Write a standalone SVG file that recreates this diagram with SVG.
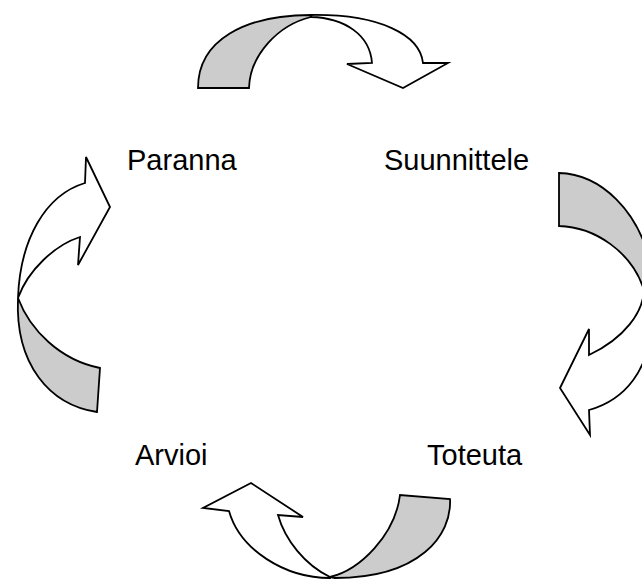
<svg xmlns="http://www.w3.org/2000/svg" width="642" height="581" viewBox="0 0 642 581">
<style>
.lbl{font-family:"Liberation Sans",Arial,sans-serif;font-size:29px;fill:#000}
.g{fill:#cccccc;stroke:#000;stroke-width:1.8;stroke-linejoin:miter}
.w{fill:#ffffff;stroke:#000;stroke-width:1.8;stroke-linejoin:miter}
</style>
<rect width="642" height="581" fill="#ffffff"/>
<g id="connectors">
  <g id="arrow-top">
    <path class="g" d="M198,88 C198,40 245,15 311,15 L311,17 C278,25 250,55 249,88 Z"/>
    <path class="w" d="M311,15 C380,14 420,35 423,63 L448,63 L403,88 L347,64 L372,63 C370,35 345,18 311,17 Z"/>
  </g>
  <g id="arrow-right">
    <path class="g" d="M559,173 C600,174 640,210 652,270 L652,300 L644,290 C632,252 595,227 559,226 Z"/>
    <path class="w" d="M644,290 C643,312 625,338 589,355 L589,329 L560,388 L590,435 L589,410 C625,400 650,370 652,320 L652,295 Z"/>
  </g>
  <g id="arrow-bottom">
    <path class="g" d="M330,577 C360,570 395,535 400,495 L450,499 C452,535 420,578 335,578 Z"/>
    <path class="w" d="M330,577 C305,565 285,540 278,515 L303,517 L251,483 L203,508 L229,511 C240,550 285,578 330,578 Z"/>
  </g>
  <g id="arrow-left">
    <path class="g" d="M18,298 C30,330 60,360 100,368 L97,412 C50,405 15,365 18,298 Z"/>
    <path class="w" d="M86,157 L110,207 L78,265 L80,237 C55,245 28,270 18,298 C20,240 45,195 85,183 Z"/>
  </g>
</g>
<g id="node-paranna"><text class="lbl" x="127" y="170">Paranna</text></g>
<g id="node-suunnittele"><text class="lbl" x="384" y="170">Suunnittele</text></g>
<g id="node-toteuta"><text class="lbl" x="427" y="465">Toteuta</text></g>
<g id="node-arvioi"><text class="lbl" x="135" y="465">Arvioi</text></g>
</svg>
